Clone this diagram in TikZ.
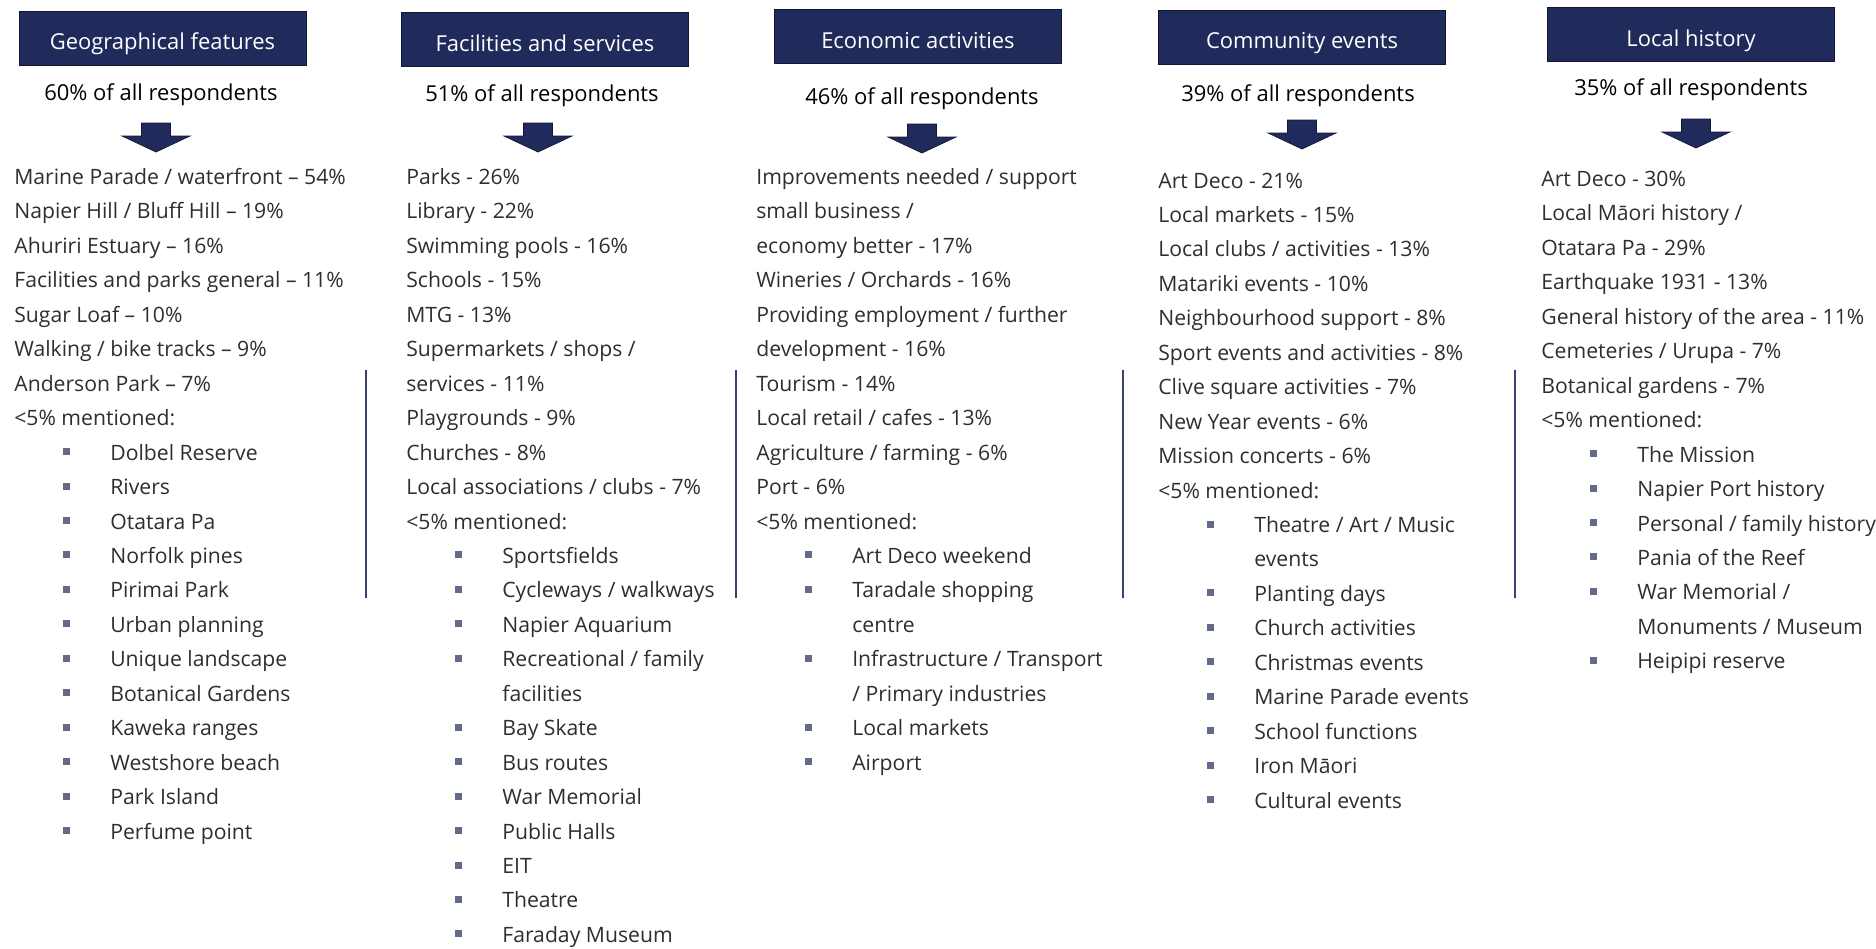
\documentclass[tikz,border=0pt]{standalone}
\usepackage{fontspec}
\setmainfont{Open Sans}
\usepackage{tikz}

\definecolor{navy}{RGB}{32,43,92}
\definecolor{navyedge}{RGB}{18,24,52}
\definecolor{bulgrey}{RGB}{100,106,138}
\definecolor{rulecol}{RGB}{58,66,112}

\tikzset{
	head/.style = {draw = navyedge, fill = navy, text = white, minimum width = 5.74cm, minimum height = 1.08cm, inner sep = 0, text height = .46cm, text depth = 0cm, font = \fontsize{12.5}{15}\selectfont},
	share/.style = {anchor = base, inner sep = 0, text = black, font = \fontsize{12.5}{15}\selectfont},
	entry/.style = {anchor = west, inner sep = 0, text = black!82, text height = .38cm, text depth = .04cm},
	sq/.style = {fill = bulgrey, inner sep = 0, minimum size = .14cm, text height = .14cm, text depth = 0cm},
	subentry/.style = {entry, xshift = 1.92cm, label = {[sq, label distance = .79cm]180:{}}},
	subwrap/.style = {entry, xshift = 1.92cm},
	rule/.style = {draw = rulecol, line width = .9pt},
	downarrow/.pic = {\draw [draw = navyedge, fill = navy] (-14.5,0) -- (14.5,0) -- (14.5,13) -- (34,13) -- (0,29) -- (-34,13) -- (-14.5,13) -- cycle;}
}

\begin{document}
\begin{tikzpicture}[x = .02cm, y = -.02cm, font = \fontsize{12.05}{15}\selectfont]
	\useasboundingbox (0,0) rectangle (1876,948);

	\node [head] (h1) at (162.5,38) {Geographical features};
	\node [head] (h2) at (545,39.5) {Facilities and services};
	\node [head] (h3) at (918,36.5) {Economic activities};
	\node [head] (h4) at (1302,37) {Community events};
	\node [head] (h5) at (1691,34.5) {Local history};

	\node [share] (p1) at (161,100.5) {60\% of all respondents};
	\node [share] (p2) at (542,101) {51\% of all respondents};
	\node [share] (p3) at (922,104) {46\% of all respondents};
	\node [share] (p4) at (1298,101) {39\% of all respondents};
	\node [share] (p5) at (1691,95) {35\% of all respondents};

	\pic at (156,123) {downarrow};
	\pic at (538,123) {downarrow};
	\pic at (922,124) {downarrow};
	\pic at (1302,120) {downarrow};
	\pic at (1696,119) {downarrow};

	\foreach \sty/\txt [count = \i from 0] in {entry/{Marine Parade / waterfront – 54\%}, entry/{Napier Hill / Bluff Hill – 19\%}, entry/{Ahuriri Estuary – 16\%}, entry/{Facilities and parks general – 11\%}, entry/{Sugar Loaf – 10\%}, entry/{Walking / bike tracks – 9\%}, entry/{Anderson Park – 7\%}, entry/{<5\% mentioned:}, subentry/{Dolbel Reserve}, subentry/{Rivers}, subentry/{Otatara Pa}, subentry/{Norfolk pines}, subentry/{Pirimai Park}, subentry/{Urban planning}, subentry/{Unique landscape}, subentry/{Botanical Gardens}, subentry/{Kaweka ranges}, subentry/{Westshore beach}, subentry/{Park Island}, subentry/{Perfume point}}
		\node [\sty] (geo\i) at (14,176+34.45*\i) {\txt};

	\foreach \sty/\txt [count = \i from 0] in {entry/{Parks - 26\%}, entry/{Library - 22\%}, entry/{Swimming pools - 16\%}, entry/{Schools - 15\%}, entry/{MTG - 13\%}, entry/{Supermarkets / shops /}, entry/{services - 11\%}, entry/{Playgrounds - 9\%}, entry/{Churches - 8\%}, entry/{Local associations / clubs - 7\%}, entry/{<5\% mentioned:}, subentry/{Sportsfields}, subentry/{Cycleways / walkways}, subentry/{Napier Aquarium}, subentry/{Recreational / family}, subwrap/{facilities}, subentry/{Bay Skate}, subentry/{Bus routes}, subentry/{War Memorial}, subentry/{Public Halls}, subentry/{EIT}, subentry/{Theatre}, subentry/{Faraday Museum}}
		\node [\sty] (fac\i) at (406,176+34.45*\i) {\txt};

	\foreach \sty/\txt [count = \i from 0] in {entry/{Improvements needed / support}, entry/{small business /}, entry/{economy better - 17\%}, entry/{Wineries / Orchards - 16\%}, entry/{Providing employment / further}, entry/{development - 16\%}, entry/{Tourism - 14\%}, entry/{Local retail / cafes - 13\%}, entry/{Agriculture / farming - 6\%}, entry/{Port - 6\%}, entry/{<5\% mentioned:}, subentry/{Art Deco weekend}, subentry/{Taradale shopping}, subwrap/{centre}, subentry/{Infrastructure / Transport}, subwrap/{/ Primary industries}, subentry/{Local markets}, subentry/{Airport}}
		\node [\sty] (eco\i) at (756,176+34.45*\i) {\txt};

	\foreach \sty/\txt [count = \i from 0] in {entry/{Art Deco - 21\%}, entry/{Local markets - 15\%}, entry/{Local clubs / activities - 13\%}, entry/{Matariki events - 10\%}, entry/{Neighbourhood support - 8\%}, entry/{Sport events and activities - 8\%}, entry/{Clive square activities - 7\%}, entry/{New Year events - 6\%}, entry/{Mission concerts - 6\%}, entry/{<5\% mentioned:}, subentry/{Theatre / Art / Music}, subwrap/{events}, subentry/{Planting days}, subentry/{Church activities}, subentry/{Christmas events}, subentry/{Marine Parade events}, subentry/{School functions}, subentry/{Iron Māori}, subentry/{Cultural events}}
		\node [\sty] (com\i) at (1158,179.5+34.45*\i) {\txt};

	\foreach \sty/\txt [count = \i from 0] in {entry/{Art Deco - 30\%}, entry/{Local Māori history /}, entry/{Otatara Pa - 29\%}, entry/{Earthquake 1931 - 13\%}, entry/{General history of the area - 11\%}, entry/{Cemeteries / Urupa - 7\%}, entry/{Botanical gardens - 7\%}, entry/{<5\% mentioned:}, subentry/{The Mission}, subentry/{Napier Port history}, subentry/{Personal / family history}, subentry/{Pania of the Reef}, subentry/{War Memorial /}, subwrap/{Monuments / Museum}, subentry/{Heipipi reserve}}
		\node [\sty] (his\i) at (1541,178+34.45*\i) {\txt};

	\draw [rule] (366,370) -- (366,598);
	\draw [rule] (736,370) -- (736,598);
	\draw [rule] (1123,370) -- (1123,598);
	\draw [rule] (1515,370) -- (1515,598);
\end{tikzpicture}
\end{document}
